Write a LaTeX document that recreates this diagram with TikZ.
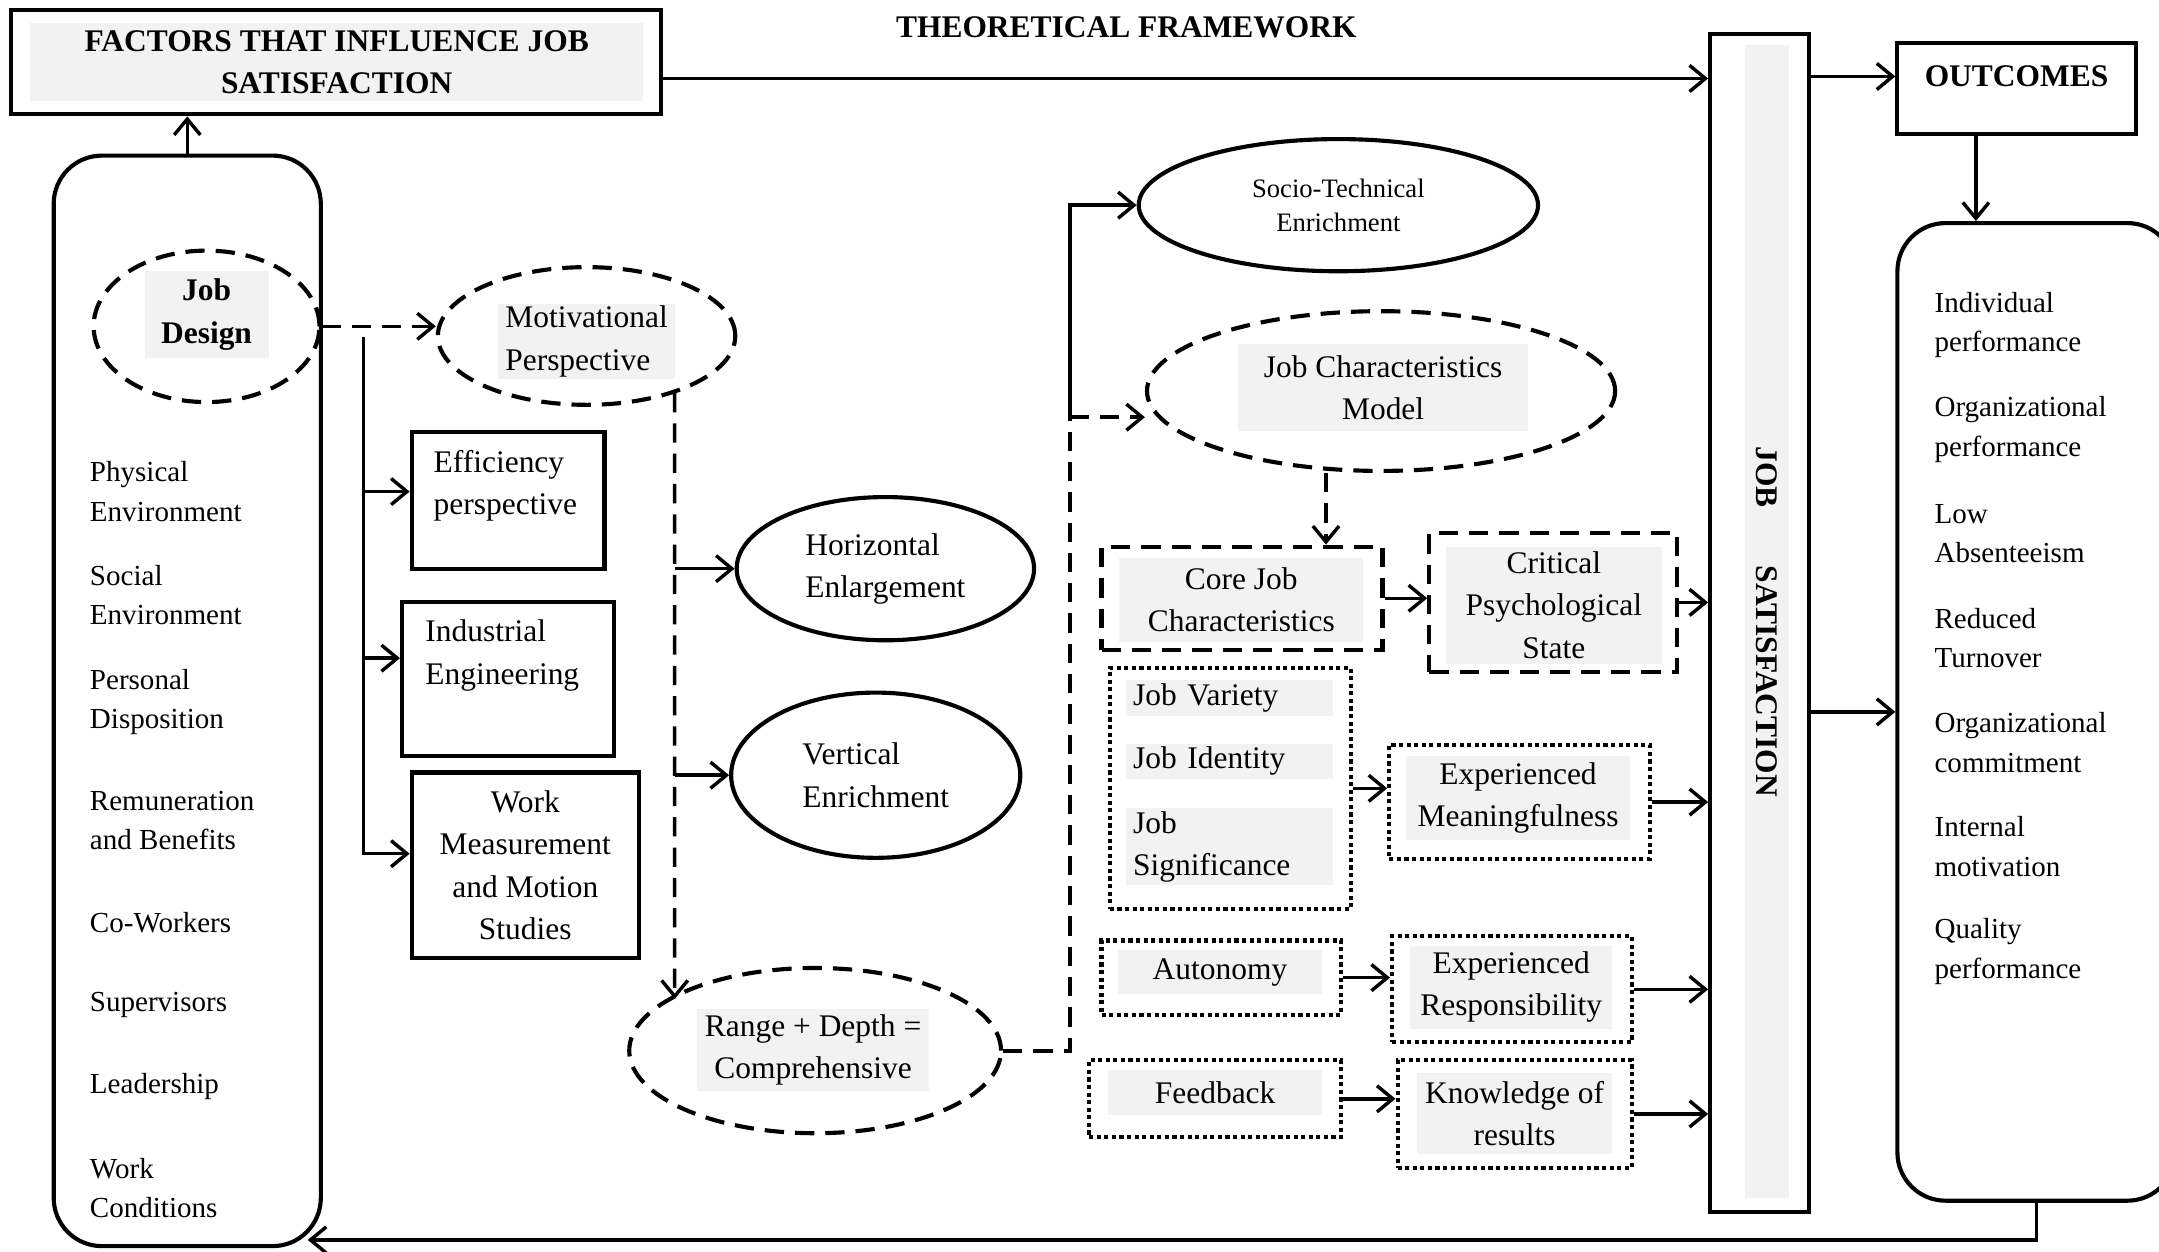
\documentclass[tikz,border=0pt]{standalone}
\usepackage{fontspec}
\setmainfont{Liberation Serif}
\usepackage{tikz}
\usetikzlibrary{shapes.geometric, arrows.meta}
\definecolor{tagfill}{HTML}{F2F2F2}
\tikzstyle{facbox} = [rectangle, draw=black, line width=0.06cm, align=center, inner sep=0pt]
\tikzstyle{roundbox} = [rectangle, rounded corners=0.7cm, draw=black, line width=0.06cm, inner sep=0pt]
\tikzstyle{dashbox} = [rectangle, draw=black, line width=0.06cm, dash pattern=on 0.28cm off 0.16cm, inner sep=0pt]
\tikzstyle{dotbox} = [rectangle, draw=black, line width=0.06cm, dash pattern=on 0.06cm off 0.05cm, inner sep=0pt]
\tikzstyle{solidoval} = [ellipse, draw=black, line width=0.06cm, align=left, inner sep=0pt]
\tikzstyle{dashoval} = [ellipse, draw=black, line width=0.06cm, dash pattern=on 0.28cm off 0.16cm, inner sep=0pt]
\tikzstyle{greytag} = [rectangle, fill=tagfill, align=center, inner sep=0pt]
\tikzstyle{boldtext} = [font=\fontsize{13}{17.5}\selectfont\bfseries]
\tikzstyle{listtext} = [font=\fontsize{12}{16.2}\selectfont, align=left, anchor=west, inner sep=0pt]
\tikzstyle{outtext} = [font=\fontsize{12}{16.4}\selectfont, align=left, text width=3.1cm]
\tikzstyle{arrow} = [line width=0.05cm, ->, >={Straight Barb[length=0.23cm, width=0.38cm]}]
\tikzstyle{dasharrow} = [arrow, dash pattern=on 0.28cm off 0.16cm]
\tikzstyle{dashline} = [line width=0.06cm, dash pattern=on 0.28cm off 0.16cm]

\begin{document}
\begin{tikzpicture}[node distance=1.516cm, font=\fontsize{13}{17.5}\selectfont]

    \useasboundingbox (0,0) rectangle (31.36,-18.18);

    \node (title) [boldtext] at (16.36,-0.40) {THEORETICAL FRAMEWORK};

    \node (fac) [facbox, minimum width=9.44cm, minimum height=1.52cm] at (4.88,-0.90) {};
    \node (factxt) [greytag, boldtext, minimum width=8.9cm, minimum height=1.12cm] at (4.89,-0.90) {FACTORS THAT INFLUENCE JOB\\SATISFACTION};

    \node (bar) [facbox, minimum width=1.44cm, minimum height=17.1cm] at (25.56,-9.05) {};
    \node (bartxt) [greytag, boldtext, rotate=-90, minimum width=16.74cm, minimum height=0.64cm] at (25.66,-9.03) {JOB\hspace{0.84cm}SATISFACTION};

    \node (outc) [facbox, boldtext, minimum width=3.46cm, minimum height=1.32cm, text height=0.64cm, text depth=0.68cm] at (29.29,-1.28) {OUTCOMES};
    \node (olist) [roundbox, minimum width=4.04cm, minimum height=14.2cm] at (29.58,-10.34) {};
    \node (out1) [outtext] at (29.65,-4.72) {Individual\\performance};
    \node (out2) [outtext, below of=out1] {Organizational\\performance};
    \node (out3) [outtext, below of=out2] {Low\\Absenteeism};
    \node (out4) [outtext, below of=out3] {Reduced\\Turnover};
    \node (out5) [outtext, below of=out4] {Organizational\\commitment};
    \node (out6) [outtext, below of=out5] {Internal\\motivation};
    \node (out7) [outtext, below of=out6] {Quality\\performance};

    \node (lbox) [roundbox, minimum width=3.88cm, minimum height=15.84cm] at (2.72,-10.18) {};
    \node (jd) [dashoval, minimum width=3.28cm, minimum height=2.2cm] at (3.0,-4.74) {};
    \node (jdtxt) [greytag, boldtext, minimum width=1.8cm, minimum height=1.26cm] at (3.0,-4.57) {Job\\Design};
    \node (phy) [listtext] at (1.30,-7.14) {Physical\\Environment};
    \node (soc) [listtext] at (1.30,-8.64) {Social\\Environment};
    \node (per) [listtext] at (1.30,-10.20) {Personal\\Disposition};
    \node (rem) [listtext] at (1.30,-11.92) {Remuneration\\and Benefits};
    \node (cow) [listtext] at (1.30,-13.40) {Co-Workers};
    \node (sup) [listtext] at (1.30,-14.60) {Supervisors};
    \node (lea) [listtext] at (1.30,-15.78) {Leadership};
    \node (wor) [listtext] at (1.30,-17.26) {Work\\Conditions};

    \node (mp) [dashoval, minimum width=4.32cm, minimum height=2.0cm] at (8.52,-4.88) {};
    \node (mptxt) [greytag, align=left, minimum width=2.56cm, minimum height=1.08cm] at (8.52,-4.96) {Motivational\\Perspective};
    \node (ef) [facbox, align=left, text width=2.16cm, text height=0.58cm, text depth=1.4cm, minimum width=2.8cm, minimum height=1.98cm] at (7.38,-7.27) {Efficiency\\perspective};
    \node (ie) [facbox, align=left, text width=2.4cm, text height=0.58cm, text depth=1.66cm, minimum width=3.08cm, minimum height=2.24cm] at (7.38,-9.86) {Industrial\\Engineering};
    \node (wm) [facbox, minimum width=3.3cm, minimum height=2.7cm] at (7.63,-12.57) {Work\\Measurement\\and Motion\\Studies};

    \node (he) [solidoval, minimum width=4.32cm, minimum height=2.08cm] at (12.86,-8.26) {Horizontal\\Enlargement};
    \node (ve) [solidoval, minimum width=4.2cm, minimum height=2.4cm] at (12.72,-11.26) {Vertical\\Enrichment};
    \node (rd) [dashoval, minimum width=5.4cm, minimum height=2.4cm] at (11.84,-15.26) {};
    \node (rdtxt) [greytag, minimum width=3.38cm, minimum height=1.18cm] at (11.81,-15.25) {Range + Depth =\\Comprehensive};

    \node (ste) [solidoval, align=center, font=\fontsize{11}{14.2}\selectfont, minimum width=5.8cm, minimum height=1.92cm] at (19.44,-2.98) {Socio-Technical\\Enrichment};
    \node (jcm) [dashoval, minimum width=6.8cm, minimum height=2.32cm] at (20.06,-5.68) {};
    \node (jcmtxt) [greytag, minimum width=4.22cm, minimum height=1.26cm] at (20.09,-5.63) {Job Characteristics\\Model};
    \node (core) [dashbox, minimum width=4.08cm, minimum height=1.5cm] at (18.04,-8.69) {};
    \node (coretxt) [greytag, minimum width=3.54cm, minimum height=1.22cm] at (18.03,-8.71) {Core Job\\Characteristics};
    \node (cps) [dashbox, minimum width=3.6cm, minimum height=2.02cm] at (22.56,-8.75) {};
    \node (cpstxt) [greytag, minimum width=3.14cm, minimum height=1.7cm] at (22.57,-8.79) {Critical\\Psychological\\State};

    \node (jch) [dotbox, minimum width=3.5cm, minimum height=3.5cm] at (17.87,-11.45) {};
    \node (jvar) [greytag, align=left, text width=2.8cm, inner xsep=0.1cm, minimum height=0.52cm] at (17.86,-10.14) {Job Variety};
    \node (jid) [greytag, align=left, text width=2.8cm, inner xsep=0.1cm, minimum height=0.52cm] at (17.86,-11.06) {Job Identity};
    \node (jsig) [greytag, align=left, text width=2.8cm, inner xsep=0.1cm, minimum height=1.12cm] at (17.86,-12.30) {Job\\Significance};
    \node (em) [dotbox, minimum width=3.78cm, minimum height=1.66cm] at (22.07,-11.65) {};
    \node (emtxt) [greytag, minimum width=3.26cm, minimum height=1.22cm] at (22.05,-11.59) {Experienced\\Meaningfulness};

    \node (au) [dotbox, minimum width=3.48cm, minimum height=1.08cm] at (17.74,-14.2) {};
    \node (autxt) [greytag, minimum width=2.96cm, minimum height=0.64cm] at (17.72,-14.12) {Autonomy};
    \node (er) [dotbox, minimum width=3.48cm, minimum height=1.54cm] at (21.96,-14.37) {};
    \node (ertxt) [greytag, minimum width=2.94cm, minimum height=1.2cm] at (21.95,-14.34) {Experienced\\Responsibility};

    \node (fb) [dotbox, minimum width=3.66cm, minimum height=1.12cm] at (17.65,-15.96) {};
    \node (fbtxt) [greytag, minimum width=3.1cm, minimum height=0.66cm] at (17.65,-15.87) {Feedback};
    \node (kr) [dotbox, minimum width=3.4cm, minimum height=1.56cm] at (22.0,-16.18) {};
    \node (krtxt) [greytag, minimum width=2.84cm, minimum height=1.18cm] at (22.0,-16.17) {Knowledge of\\results};

    \coordinate (br) at (5.28,-4.9);
    \coordinate (mv) at ([xshift=1.28cm, yshift=0.2cm]mp.south);
    \coordinate (sp) at (15.54,-6.06);

    \draw [arrow] (lbox.north) -- (lbox.north |- fac.south);
    \draw [arrow] ([yshift=-0.24cm]fac.east) -- ([yshift=-0.24cm]fac.east -| bar.west);
    \draw [arrow] ([yshift=-0.64cm]bar.north east) -- ([yshift=-0.64cm]bar.north east -| outc.west);
    \draw [arrow] ([xshift=-0.59cm]outc.south) -- ([xshift=-0.59cm]outc.south |- olist.north);
    \draw [arrow] (bar.east |- olist.west) -- (olist.west);
    \draw [arrow] (olist.south) |- ([xshift=-0.22cm, yshift=0.12cm]lbox.south east);

    \draw [dasharrow] (jd.east) -- (jd.east -| mp.west);
    \draw [arrow] (br) |- ([yshift=0.17cm]wm.west);
    \draw [arrow] ([yshift=0.13cm]ef.west -| br) -- ([yshift=0.13cm]ef.west);
    \draw [arrow] ([yshift=0.3cm]ie.west -| br) -- ([yshift=0.3cm]ie.west);

    \draw [dasharrow] (mv) -- ([xshift=-2.04cm, yshift=1.98cm]rd.south);
    \draw [arrow] (mv |- he.west) -- (he.west);
    \draw [arrow] (mv |- ve.west) -- (ve.west);

    \draw [dashline] (rd.east) -| (sp);
    \draw [dasharrow] (sp) -- (sp -| jcm.west);
    \draw [arrow] (sp) |- (ste.west);
    \draw [dasharrow] ([xshift=-0.8cm]jcm.south) -- ([xshift=-0.8cm]jcm.south |- core.north);

    \draw [arrow] (core.east) -- (core.east -| cps.west);
    \draw [arrow] (cps.east) -- (cps.east -| bar.west);
    \draw [arrow] (jch.east) -- (jch.east -| em.west);
    \draw [arrow] (em.east) -- (em.east -| bar.west);
    \draw [arrow] (au.east) -- (au.east -| er.west);
    \draw [arrow] (er.east) -- (er.east -| bar.west);
    \draw [arrow] (fb.east) -- (fb.east -| kr.west);
    \draw [arrow] (kr.east) -- (kr.east -| bar.west);

\end{tikzpicture}
\end{document}
